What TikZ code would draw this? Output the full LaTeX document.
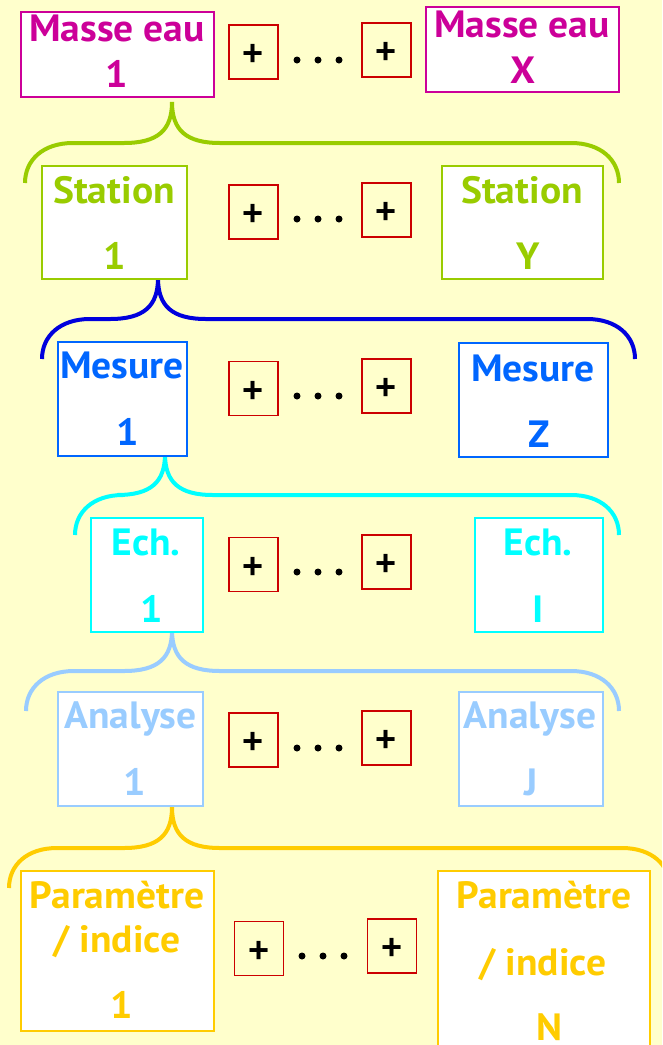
\documentclass[tikz,border=0pt]{standalone}
\usepackage{fontspec}
\setmainfont{PT Sans}[FakeStretch=1.04]
\newfontfamily\plusfont{Liberation Sans}
\definecolor{bgc}{HTML}{FFFFCC}
\definecolor{magc}{HTML}{CC0099}
\definecolor{grnc}{HTML}{99CC00}
\definecolor{bluc}{HTML}{0066FF}
\definecolor{dbluc}{HTML}{0000DD}
\definecolor{cyac}{HTML}{00FFFF}
\definecolor{lbluc}{HTML}{99CCFF}
\definecolor{yelc}{HTML}{FFCC00}
\definecolor{redc}{HTML}{CC0000}
\tikzset{
  box/.style={draw, fill=white, line width=1.6pt, inner sep=0pt, outer sep=0pt},
  plusbox/.style={draw=redc, line width=1.6pt, minimum width=49pt, minimum height=54pt, inner sep=0pt},
  lbl/.style={anchor=base, inner sep=0pt, font=\bfseries\fontsize{38}{40}\selectfont},
  plussign/.style={inner sep=0pt, font=\plusfont\bfseries\fontsize{36}{36}\selectfont},
  dotnode/.style={circle, fill=black, minimum size=7pt, inner sep=0pt},
  bracestyle/.style={line width=4pt}
}
\newcommand\mybrace[5]{%
  \coordinate (#1tip) at (#3,#4);
  \draw[bracestyle,#2] (#1tip) .. controls (#3,#4+28) and (#3-14,#4+41) .. (#3-48,#4+41)
     -- (#5+48,#4+41) .. controls (#5+18,#4+41) and (#5,#4+58) .. (#5,#4+81);
}
\newcommand\mybraceR[5]{%
  \draw[bracestyle,#2] (#1tip) .. controls (#3,#4+28) and (#3+14,#4+41) .. (#3+48,#4+41)
     -- (#5-48,#4+41) .. controls (#5-18,#4+41) and (#5,#4+58) .. (#5,#4+81);
}
\newcommand\plusrow[7]{%
  \node[plusbox] (#1a) at (#2,#3) {};
  \node[plussign] (#1ap) at (#2,#3+3) {+};
  \node[plusbox] (#1b) at (#4,#5) {};
  \node[plussign] (#1bp) at (#4,#5+3) {+};
  \foreach \k/\dx in {1/0,2/21,3/42} \node[dotnode] (#1d\k) at (#6+\dx,#7) {};
}
\begin{document}
\begin{tikzpicture}[x=1pt,y=-1pt]
\useasboundingbox (0,0) rectangle (662,1045);
\clip (0,0) rectangle (662,1045);
\fill[bgc] (0,0) rectangle (662,1045);

% braces
\mybrace{g}{grnc}{172}{102}{25}
\mybraceR{g}{grnc}{172}{102}{619}
\mybrace{b}{dbluc}{158}{278}{42}
\mybraceR{b}{dbluc}{158}{278}{635}
\mybrace{c}{cyac}{165}{454}{75}
\mybraceR{c}{cyac}{165}{454}{619}
\mybrace{l}{lbluc}{172}{630}{26}
\mybraceR{l}{lbluc}{172}{630}{619}
\mybrace{y}{yelc}{172}{807}{9}
\mybraceR{y}{yelc}{172}{807}{670}

% row 1
\node[box, draw=magc, minimum width=193pt, minimum height=85pt] (m1) at (117.5,54.5) {};
\node[box, draw=magc, minimum width=193pt, minimum height=85pt] (mX) at (522.5,49.5) {};
\node[lbl, text=magc] (m1t) at (117,41) {Masse eau};
\node[lbl, text=magc] (m1n) at (117,87) {1};
\node[lbl, text=magc] (mXt) at (522,37) {Masse eau};
\node[lbl, text=magc] (mXn) at (523,83) {X};
\plusrow{r1}{253.5}{52}{386.5}{50}{297}{60}

% row 2
\node[box, draw=grnc, minimum width=145pt, minimum height=113pt] (s1) at (114.5,222.5) {};
\node[box, draw=grnc, minimum width=161pt, minimum height=113pt] (sY) at (522.5,222.5) {};
\node[lbl, text=grnc] (s1t) at (114,203) {Station};
\node[lbl, text=grnc] (s1n) at (115,269) {1};
\node[lbl, text=grnc] (sYt) at (522,203) {Station};
\node[lbl, text=grnc] (sYn) at (528,269) {Y};
\plusrow{r2}{253.5}{212}{386.5}{210}{297}{219}

% row 3
\node[box, draw=bluc, minimum width=129pt, minimum height=114pt] (me1) at (122.5,399) {};
\node[box, draw=bluc, minimum width=149pt, minimum height=114pt] (meZ) at (533.5,400) {};
\node[lbl, text=bluc] (me1t) at (122,378) {Mesure};
\node[lbl, text=bluc] (me1n) at (128,445) {1};
\node[lbl, text=bluc] (meZt) at (533,381) {Mesure};
\node[lbl, text=bluc] (meZn) at (539,447) {Z};
\plusrow{r3}{253.5}{388.5}{386.5}{386}{297}{396}

% row 4
\node[box, draw=cyac, minimum width=112pt, minimum height=114pt] (e1) at (147,575) {};
\node[box, draw=cyac, minimum width=128pt, minimum height=114pt] (eI) at (539,575) {};
\node[lbl, text=cyac] (e1t) at (146,555) {Ech.};
\node[lbl, text=cyac] (e1n) at (152,622) {1};
\node[lbl, text=cyac] (eIt) at (538,555) {Ech.};
\node[lbl, text=cyac] (eIn) at (538,622) {I};
\plusrow{r4}{253.5}{564.5}{386.5}{562}{297}{572}

% row 5
\node[box, draw=lbluc, minimum width=145pt, minimum height=114pt] (a1) at (130.5,749) {};
\node[box, draw=lbluc, minimum width=144pt, minimum height=114pt] (aJ) at (531,749) {};
\node[lbl, text=lbluc] (a1t) at (130.5,728) {Analyse};
\node[lbl, text=lbluc] (a1n) at (135,795) {1};
\node[lbl, text=lbluc] (aJt) at (530,728) {Analyse};
\node[lbl, text=lbluc] (aJn) at (531,795) {J};
\plusrow{r5}{253.5}{740}{386.5}{738}{297}{748}

% row 6
\node[box, draw=yelc, minimum width=193pt, minimum height=160pt] (p1) at (117.5,951) {};
\node[box, draw=yelc, minimum width=212pt, minimum height=194pt] (pN) at (544,968) {};
\node[lbl, text=yelc] (p1t) at (117,908) {Paramètre};
\node[lbl, text=yelc] (p1u) at (117,952) {/ indice};
\node[lbl, text=yelc] (p1n) at (122,1018) {1};
\node[lbl, text=yelc] (pNt) at (544,908) {Paramètre};
\node[lbl, text=yelc] (pNu) at (543,975) {/ indice};
\node[lbl, text=yelc] (pNn) at (549,1040) {N};
\plusrow{r6}{259}{948.5}{392}{946}{302}{956}
\end{tikzpicture}
\end{document}
